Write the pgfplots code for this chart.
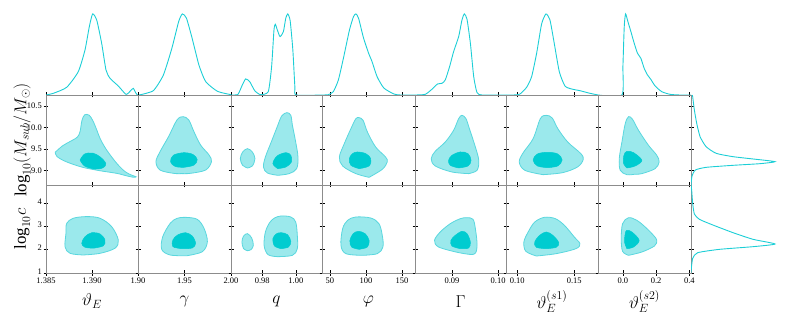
\documentclass[border=0pt]{standalone}
\usepackage{pgfplots}
\pgfplotsset{compat=1.18}
\usepackage{fontspec}
\setmainfont{Liberation Serif}
\definecolor{cline}{RGB}{28,206,214}
\definecolor{cout}{RGB}{155,233,236}
\definecolor{coutedge}{RGB}{90,215,222}
\definecolor{cin}{RGB}{0,204,208}
\pgfplotsset{
 base/.style={scale only axis, anchor=south west,
   axis line style={draw=black!45, line width=0.5bp},
   tick style={draw=black, line width=0.5bp}, major tick length=5bp, tick align=center,
   ticklabel style={font=\fontsize{8.5}{10}\selectfont}, xticklabels={}, yticklabels={},
   xticklabel style={inner sep=1.5bp, yshift=-1bp}, yticklabel style={inner sep=1.5bp},
   xlabel style={at={(axis description cs:0.5,-0.32)}, anchor=center, font=\fontsize{17}{20}\selectfont},
   ylabel style={at={(axis description cs:-0.26,0.5)}, anchor=center, font=\fontsize{17}{20}\selectfont}},
 panel/.style={base, xtick pos=bottom, ytick pos=left},
 rowA/.style={panel, height=90bp, ymin=8.66, ymax=10.75, ytick={9,9.5,10,10.5}},
 rowB/.style={panel, height=88bp, ymin=1, ymax=4.76, ytick={1,2,3,4}},
 topm/.style={base, height=90bp, ymin=0, ymax=1.11, axis x line*=bottom, axis y line=none},
 pcA/.style={at={(46bp,#1)}, width=92bp, xmin=1.385, xmax=1.395, xtick={1.385,1.39,1.395}},
 pcB/.style={at={(138bp,#1)}, width=93bp, xmin=1.9, xmax=2.0, xtick={1.9,1.95,2.0}},
 pcC/.style={at={(231bp,#1)}, width=91bp, xmin=0.9615, xmax=1.0155, xtick={0.98,1.0}},
 pcD/.style={at={(322bp,#1)}, width=93bp, xmin=39, xmax=168, xtick={50,100,150}},
 pcE/.style={at={(415bp,#1)}, width=91bp, xmin=0.082, xmax=0.1017, xtick={0.09,0.1}},
 pcF/.style={at={(506bp,#1)}, width=92bp, xmin=0.0901, xmax=0.1708, xtick={0.1,0.15}},
 pcG/.style={at={(598bp,#1)}, width=93bp, xmin=-0.15, xmax=0.41, xtick={0,0.2,0.4}},
 cOuter/.style={smooth, tension=0.55, fill=cout, draw=coutedge, line width=0.8bp},
 cInner/.style={smooth, tension=0.55, fill=cin, draw=cin, line width=0.5bp},
 mline/.style={smooth, tension=0.35, draw=cline, line width=0.9bp},
}
\begin{document}
\begin{tikzpicture}
\path[use as bounding box] (0,0) rectangle (789bp,319bp);
% ================= top marginals =================
\begin{axis}[topm, pcA=224bp]
\addplot[mline] coordinates {(1.38500,0) (1.38580,0.021) (1.38725,0.095) (1.38851,0.288) (1.38924,0.556) (1.38971,0.844) (1.39007,1.0) (1.39051,0.926) (1.39105,0.638) (1.39152,0.309) (1.39196,0.206) (1.39286,0.111) (1.39370,0.008) (1.39420,0.053) (1.39449,0.082) (1.39478,0.021) (1.39496,0)};
\end{axis}
\begin{axis}[topm, pcB=224bp]
\addplot[mline] coordinates {(1.9011,0) (1.9164,0.053) (1.9273,0.247) (1.9364,0.576) (1.9437,0.905) (1.9477,1.0) (1.9521,0.947) (1.9582,0.700) (1.9655,0.370) (1.9728,0.165) (1.9855,0.045) (2.0000,0.004)};
\end{axis}
\begin{axis}[topm, pcC=224bp]
\addplot[mline] coordinates {(0.9615,0) (0.9656,0.008) (0.9682,0.123) (0.9702,0.198) (0.9726,0.165) (0.9756,0.053) (0.9790,0.004) (0.9836,0.041) (0.9856,0.350) (0.9870,0.802) (0.9878,0.872) (0.9890,0.802) (0.9906,0.720) (0.9926,0.782) (0.9940,0.947) (0.9952,1.0) (0.9966,0.918) (0.9982,0.556) (0.9994,0.103) (1.0002,0) (1.0155,0)};
\end{axis}
\begin{axis}[topm, pcD=224bp]
\addplot[mline] coordinates {(39,0) (47.7,0.004) (54.7,0.041) (61.7,0.185) (68.7,0.453) (77.1,0.802) (82.7,0.967) (86.0,1.0) (89.7,0.947) (96.7,0.700) (103.7,0.514) (108.4,0.412) (115.4,0.226) (124.8,0.086) (138.8,0.012) (148.1,0) (168,0)};
\end{axis}
\begin{axis}[topm, pcE=224bp]
\addplot[mline] coordinates {(0.082,0) (0.08420,0.008) (0.08565,0.070) (0.08688,0.136) (0.08783,0.144) (0.08855,0.185) (0.08949,0.350) (0.09036,0.535) (0.09145,0.720) (0.09217,0.926) (0.09268,1.0) (0.09326,0.934) (0.09399,0.638) (0.09471,0.226) (0.09543,0.029) (0.09652,0) (0.1017,0)};
\end{axis}
\begin{axis}[topm, pcF=224bp]
\addplot[mline] coordinates {(0.0901,0) (0.0965,0) (0.10234,0.012) (0.10819,0.095) (0.11257,0.226) (0.11696,0.514) (0.12135,0.877) (0.12515,1.0) (0.12865,0.926) (0.13216,0.658) (0.13684,0.288) (0.14181,0.111) (0.14766,0.074) (0.15497,0.053) (0.16374,0.021) (0.1708,0)};
\end{axis}
\begin{axis}[topm, pcG=224bp]
\addplot[mline] coordinates {(-0.15,0) (-0.006,0) (0.000,0.350) (0.008,0.844) (0.016,1.0) (0.030,0.905) (0.048,0.782) (0.068,0.638) (0.088,0.514) (0.108,0.453) (0.128,0.329) (0.148,0.247) (0.168,0.193) (0.194,0.111) (0.234,0.041) (0.284,0.008) (0.344,0) (0.41,0)};
\end{axis}
% ================= row 1: log10 Msub =================
\begin{axis}[rowA, pcA=134bp, yticklabels={9.0,9.5,10.0,10.5}, ylabel={$\mathrm{log}_{10}(M_{sub}/M_{\odot})$}]
\addplot[cOuter] coordinates {(1.3860,9.42) (1.3868,9.57) (1.3877,9.68) (1.3884,9.77) (1.3887,9.90) (1.3889,10.15) (1.3892,10.29) (1.3897,10.28) (1.3901,10.15) (1.3905,9.95) (1.3909,9.73) (1.3916,9.47) (1.3927,9.16) (1.3936,8.97) (1.3943,8.89) (1.3948,8.85) (1.3945,8.84) (1.3938,8.87) (1.3927,8.93) (1.3909,8.99) (1.3890,9.07) (1.3872,9.20) (1.3862,9.32) (1.3860,9.42)};
\addplot[cInner] coordinates {(1.3887,9.24) (1.3892,9.38) (1.3901,9.40) (1.3909,9.31) (1.3915,9.16) (1.3912,9.06) (1.3903,9.03) (1.3892,9.10) (1.3887,9.24)};
\end{axis}
\begin{axis}[rowA, pcB=134bp]
\addplot[cOuter] coordinates {(1.9470,8.925) (1.9382,8.931) (1.9237,9.008) (1.9193,9.202) (1.9237,9.434) (1.9328,9.782) (1.9419,10.17) (1.9484,10.247) (1.9546,10.17) (1.9601,9.90) (1.9673,9.589) (1.9764,9.357) (1.9790,9.202) (1.9728,9.008) (1.9564,8.931) (1.9470,8.925)};
\addplot[cInner] coordinates {(1.9491,9.07) (1.9400,9.09) (1.9350,9.20) (1.9380,9.35) (1.9491,9.41) (1.9590,9.37) (1.9637,9.25) (1.9600,9.12) (1.9491,9.07)};
\end{axis}
\begin{axis}[rowA, pcC=134bp]
\addplot[cOuter] coordinates {(0.97128,9.055) (0.96838,9.117) (0.96703,9.272) (0.96838,9.427) (0.97128,9.504) (0.97418,9.427) (0.97572,9.272) (0.97418,9.102) (0.97128,9.055)};
\addplot[cOuter] coordinates {(0.98926,8.885) (0.98307,8.939) (0.98075,9.079) (0.98191,9.311) (0.98539,9.659) (0.98887,10.007) (0.99158,10.263) (0.99467,10.34) (0.99699,10.278) (0.99795,10.046) (0.99989,9.659) (1.00124,9.311) (1.00047,9.040) (0.99602,8.924) (0.98926,8.885)};
\addplot[cInner] coordinates {(0.98926,9.040) (0.98636,9.156) (0.98887,9.334) (0.99409,9.411) (0.99699,9.349) (0.99737,9.195) (0.99409,9.078) (0.98926,9.040)};
\end{axis}
\begin{axis}[rowA, pcD=134bp]
\addplot[cOuter] coordinates {(104.3,8.838) (85.9,8.924) (67.6,9.102) (63.1,9.311) (69.9,9.620) (79.1,9.969) (86.0,10.201) (90.5,10.224) (96.0,10.162) (102.0,9.891) (113.4,9.543) (127.2,9.311) (129.5,9.195) (122.6,9.024) (104.3,8.838)};
\addplot[cInner] coordinates {(90.5,9.040) (79.1,9.117) (76.8,9.272) (81.4,9.388) (88.2,9.427) (99.7,9.388) (106.6,9.272) (104.3,9.102) (90.5,9.040)};
\end{axis}
\begin{axis}[rowA, pcE=134bp]
\addplot[cOuter] coordinates {(0.09362,8.924) (0.08999,8.962) (0.08638,9.102) (0.08551,9.272) (0.08638,9.442) (0.08855,9.659) (0.09036,9.930) (0.09145,10.201) (0.09217,10.278) (0.09304,10.201) (0.09377,9.969) (0.09507,9.543) (0.09580,9.233) (0.09543,9.001) (0.09362,8.924)};
\addplot[cInner] coordinates {(0.09145,9.055) (0.08964,9.117) (0.08927,9.233) (0.09000,9.349) (0.09181,9.427) (0.09348,9.388) (0.09413,9.233) (0.09348,9.102) (0.09145,9.055)};
\end{axis}
\begin{axis}[rowA, pcF=134bp]
\addplot[cOuter] coordinates {(0.12254,8.900) (0.10665,9.001) (0.10173,9.195) (0.10520,9.411) (0.11387,9.736) (0.12023,10.201) (0.12543,10.278) (0.13063,10.216) (0.13555,9.969) (0.14422,9.659) (0.15578,9.388) (0.15780,9.249) (0.15289,9.079) (0.13988,8.947) (0.12254,8.900)};
\addplot[cInner] coordinates {(0.12659,9.063) (0.11763,9.102) (0.11387,9.241) (0.11763,9.380) (0.12659,9.419) (0.13555,9.380) (0.13930,9.241) (0.13555,9.102) (0.12659,9.063)};
\end{axis}
\begin{axis}[rowA, pcG=134bp, ytick pos=both]
\addplot[cOuter] coordinates {(0.070,8.91) (0.024,8.900) (-0.016,9.001) (-0.022,9.272) (-0.006,9.659) (0.014,10.085) (0.034,10.247) (0.058,10.185) (0.094,9.930) (0.154,9.582) (0.204,9.350) (0.218,9.195) (0.194,9.040) (0.114,8.924) (0.070,8.91)};
\addplot[cInner] coordinates {(0.024,9.055) (0.004,9.156) (0.006,9.349) (0.024,9.442) (0.064,9.411) (0.114,9.233) (0.074,9.102) (0.024,9.055)};
\end{axis}
% ================= row 2: log10 c =================
\begin{axis}[rowB, pcA=46bp, yticklabels={1,2,3,4}, yticklabel style={yshift=1.5bp}, xticklabels={1.385,1.390,}, ylabel={$\mathrm{log}_{10}c$}, xlabel={$\vartheta_E$}]
\addplot[cOuter] coordinates {(1.38905,1.77) (1.38761,1.84) (1.38707,2.12) (1.38717,2.70) (1.38725,3.12) (1.38797,3.34) (1.38942,3.41) (1.39087,3.34) (1.39214,2.98) (1.39286,2.41) (1.39250,2.06) (1.39087,1.84) (1.38905,1.77)};
\addplot[cInner] coordinates {(1.39014,2.06) (1.38924,2.10) (1.38888,2.27) (1.38924,2.55) (1.38997,2.72) (1.39087,2.67) (1.39141,2.41) (1.39123,2.16) (1.39014,2.06)};
\end{axis}
\begin{axis}[rowB, pcB=46bp, xticklabels={1.90,1.95,2.00}, xlabel={$\gamma$}]
\addplot[cOuter] coordinates {(1.9528,1.740) (1.9346,1.769) (1.9255,2.011) (1.9266,2.552) (1.9346,3.122) (1.9419,3.335) (1.9510,3.378) (1.9637,3.293) (1.9710,2.908) (1.9746,2.338) (1.9692,1.911) (1.9528,1.740)};
\addplot[cInner] coordinates {(1.9473,2.039) (1.9375,2.125) (1.9375,2.41) (1.9426,2.624) (1.9510,2.723) (1.9583,2.581) (1.9619,2.267) (1.9583,2.068) (1.9473,2.039)};
\end{axis}
\begin{axis}[rowB, pcC=46bp, xticklabels={0.98,1.00}, xlabel={$q$}]
\addplot[cOuter] coordinates {(0.97128,1.954) (0.96896,2.040) (0.96799,2.325) (0.96896,2.581) (0.97128,2.681) (0.97379,2.496) (0.97476,2.183) (0.97340,1.997) (0.97128,1.954)};
\addplot[cOuter] coordinates {(0.98926,1.698) (0.98346,1.783) (0.98114,2.182) (0.98191,2.752) (0.98442,3.151) (0.98732,3.350) (0.99119,3.436) (0.99699,3.393) (0.99989,3.179) (1.00085,2.610) (1.00085,2.040) (0.99795,1.755) (0.98926,1.698)};
\addplot[cInner] coordinates {(0.99119,2.040) (0.98732,2.154) (0.98636,2.467) (0.98829,2.666) (0.99119,2.723) (0.99506,2.638) (0.99699,2.353) (0.99563,2.111) (0.99119,2.040)};
\end{axis}
\begin{axis}[rowB, pcD=46bp, xticklabels={50,100,150}, xlabel={$\varphi$}]
\addplot[cOuter] coordinates {(95.1,1.755) (72.2,1.826) (65.3,2.182) (67.6,2.894) (74.5,3.250) (85.9,3.393) (106.6,3.350) (118.0,3.108) (122.6,2.610) (123.5,2.111) (115.7,1.826) (95.1,1.755)};
\addplot[cInner] coordinates {(90.5,2.012) (80.0,2.111) (77.7,2.396) (82.3,2.681) (89.6,2.780) (98.8,2.681) (104.3,2.396) (102.0,2.111) (90.5,2.012)};
\end{axis}
\begin{axis}[rowB, pcE=46bp, xticklabels={0.09,0.10}, xlabel={$\Gamma$}]
\addplot[cOuter] coordinates {(0.0909,1.895) (0.08710,2.111) (0.08623,2.396) (0.08746,2.752) (0.08964,3.108) (0.09181,3.321) (0.09326,3.364) (0.09456,3.293) (0.09507,2.894) (0.09543,2.182) (0.09470,1.80) (0.0909,1.895)};
\addplot[cInner] coordinates {(0.09181,2.040) (0.08999,2.154) (0.08978,2.396) (0.09072,2.610) (0.09217,2.780) (0.09326,2.681) (0.09398,2.325) (0.09362,2.068) (0.09181,2.040)};
\end{axis}
\begin{axis}[rowB, pcF=46bp, xticklabels={0.10,0.15}, xlabel={$\vartheta_E^{(s1)}$}]
\addplot[cOuter] coordinates {(0.11676,1.726) (0.10751,1.926) (0.10578,2.325) (0.10954,2.752) (0.11532,3.179) (0.12385,3.379) (0.13338,3.322) (0.14133,3.037) (0.15000,2.539) (0.15491,2.253) (0.15145,2.040) (0.13410,1.826) (0.11676,1.726)};
\addplot[cInner] coordinates {(0.12543,2.040) (0.11676,2.097) (0.11532,2.325) (0.11965,2.610) (0.12543,2.752) (0.13121,2.610) (0.13641,2.296) (0.13410,2.097) (0.12543,2.040)};
\end{axis}
\begin{axis}[rowB, pcG=46bp, ytick pos=both, xticklabels={0.0,0.2,0.4}, xlabel={$\vartheta_E^{(s2)}$}]
\addplot[cOuter] coordinates {(0.034,1.755) (-0.002,1.926) (-0.010,2.467) (-0.002,3.108) (0.034,3.364) (0.084,3.250) (0.134,2.966) (0.184,2.610) (0.204,2.396) (0.190,2.154) (0.114,1.897) (0.034,1.755)};
\addplot[cInner] coordinates {(0.024,2.040) (0.010,2.325) (0.014,2.681) (0.024,2.823) (0.054,2.752) (0.098,2.396) (0.064,2.111) (0.024,2.040)};
\end{axis}
% ================= right marginals =================
\begin{axis}[base, hide axis, at={(691bp,134bp)}, width=98bp, height=90bp, xmin=0, xmax=1.167, ymin=8.66, ymax=10.75]
\addplot[mline] coordinates {(0.015,10.75) (0.02,10.711) (0.04,10.402) (0.068,10.092) (0.108,9.782) (0.18,9.550) (0.30,9.395) (0.50,9.318) (0.74,9.264) (1.0,9.202) (0.82,9.155) (0.50,9.117) (0.18,9.070) (0.052,9.008) (0.012,8.869) (0,8.66)};
\end{axis}
\begin{axis}[base, hide axis, at={(691bp,46bp)}, width=98bp, height=88bp, xmin=0, xmax=1.167, ymin=1, ymax=4.76]
\addplot[mline] coordinates {(0,4.76) (0.008,4.546) (0.02,3.976) (0.04,3.521) (0.10,3.293) (0.26,3.051) (0.50,2.723) (0.74,2.438) (1.0,2.239) (0.74,2.125) (0.34,2.011) (0.08,1.868) (0.02,1.626) (0,1.057) (0,1)};
\end{axis}
\end{tikzpicture}
\end{document}
